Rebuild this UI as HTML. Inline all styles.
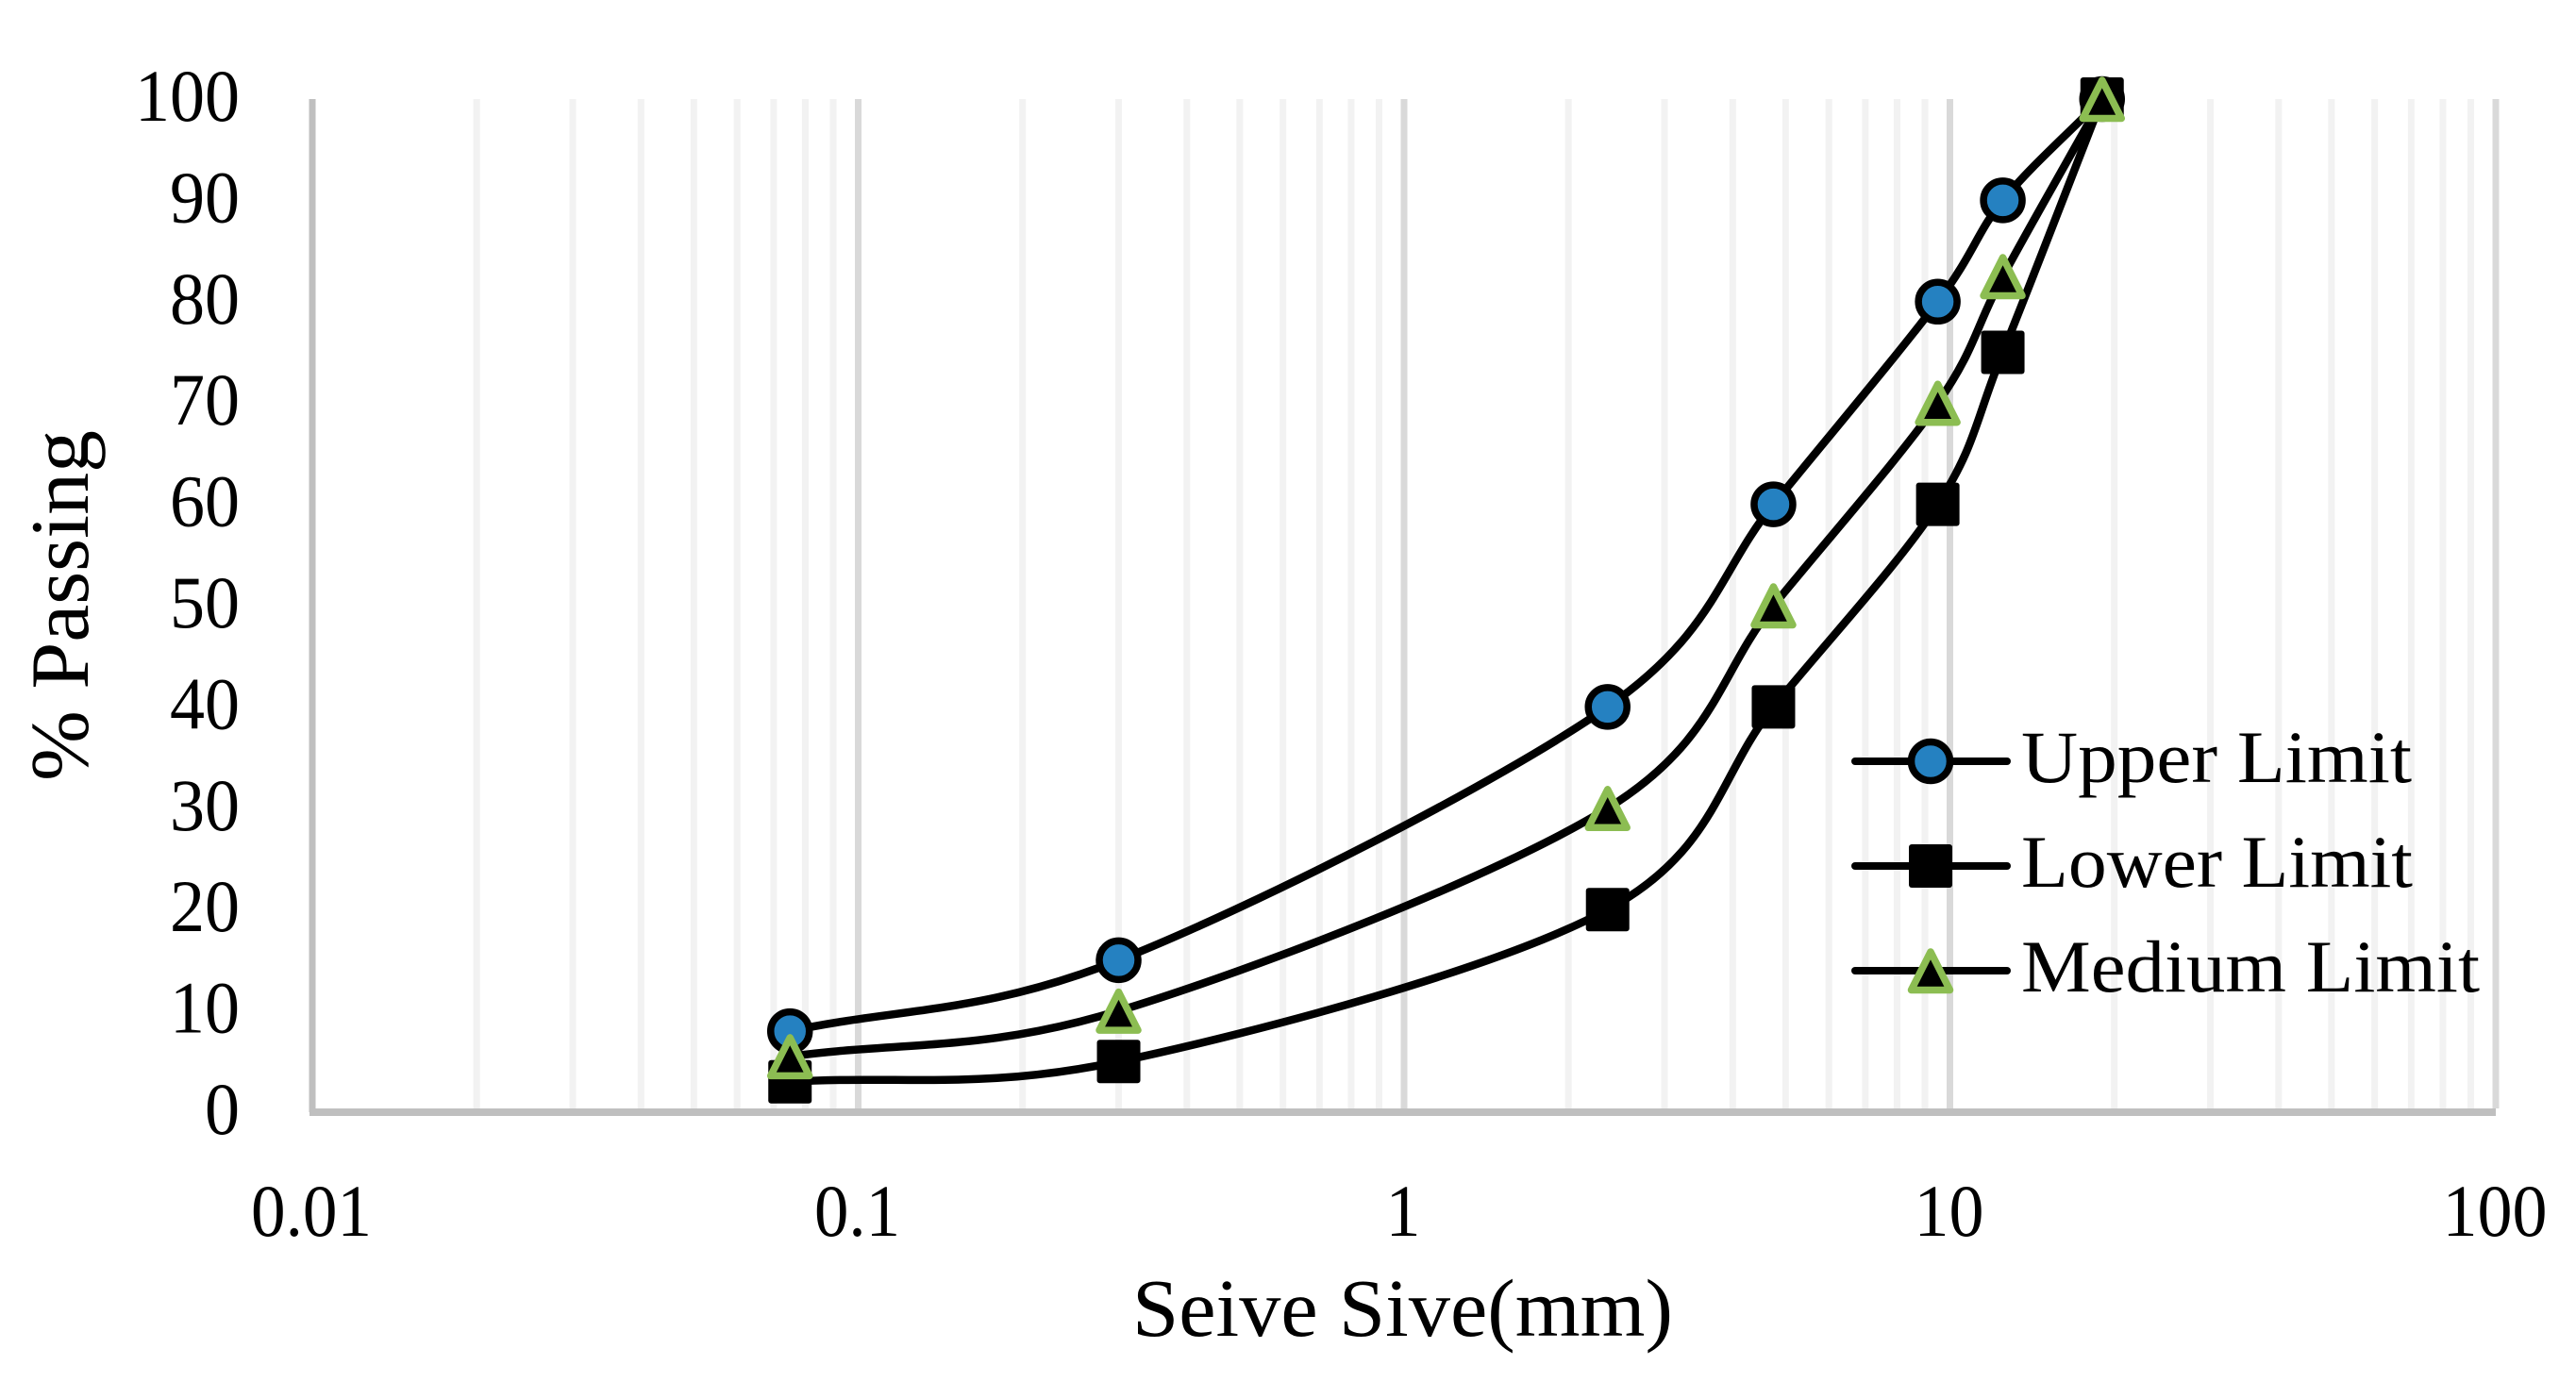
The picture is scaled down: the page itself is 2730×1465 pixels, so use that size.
<!DOCTYPE html>
<html lang="en">
<head>
<meta charset="utf-8">
<title>Sieve Size vs % Passing</title>
<style>
html,body{margin:0;padding:0;background:#fff;}
svg{display:block;font-family:"Liberation Serif",serif;fill:#000;}
</style>
</head>
<body>
<svg id="chart" width="2730" height="1465" viewBox="0 0 2730 1465" xmlns="http://www.w3.org/2000/svg">
<g id="grid"></g>
<g id="axes"></g>
<g id="ylabels"></g>
<g id="xlabels"></g>
<g id="series"></g>
<g id="legend"></g>
<text x="1200" y="1416" font-size="87" textLength="573" lengthAdjust="spacingAndGlyphs">Seive Sive(mm)</text>
<text transform="translate(93,828) rotate(-90)" x="0" y="0" font-size="88" textLength="372" lengthAdjust="spacingAndGlyphs">% Passing</text>
</svg>
<script>
const sieveSizes = [0.075, 0.3, 2.36, 4.75, 9.5, 12.5, 19];
const upperLimit = [8, 15, 40, 60, 80, 90, 100];
const lowerLimit = [3, 5, 20, 40, 60, 75, 100];
const mediumLimit = [5.5, 10, 30, 50, 70, 82.5, 100];
const yTickValues = [0, 10, 20, 30, 40, 50, 60, 70, 80, 90, 100];
const xTickLabels = ["0.01", "0.1", "1", "10", "100"];
const xDecades = [0.01, 0.1, 1, 10];
const minorMultipliers = [2, 3, 4, 5, 6, 7, 8, 9];

const NS = "http://www.w3.org/2000/svg";
const plotLeft = 331, plotRight = 2645, plotTop = 105, plotBottom = 1179;
const xMin = 0.01, xMax = 100, yMin = 0, yMax = 100;
const digitWidth = 37, dotWidth = 17;

function xScale(v) {
  return plotLeft + (Math.log10(v) - Math.log10(xMin)) / (Math.log10(xMax) - Math.log10(xMin)) * (plotRight - plotLeft);
}
function yScale(v) {
  return plotBottom - (v - yMin) / (yMax - yMin) * (plotBottom - plotTop);
}
function make(tag, attrs, parent) {
  const el = document.createElementNS(NS, tag);
  for (const k in attrs) el.setAttribute(k, attrs[k]);
  parent.appendChild(el);
  return el;
}
function dist(a, b) { return Math.hypot(a[0] - b[0], a[1] - b[1]); }
function labelWidth(s) {
  let w = 0;
  for (const ch of s) w += ch === "." ? dotWidth : digitWidth;
  return w;
}

/* Spreadsheet-style smoothed line through the points */
function smoothPath(pts) {
  let d = "M" + pts[0][0].toFixed(2) + " " + pts[0][1].toFixed(2);
  const n = pts.length - 1;
  for (let i = 0; i < n; i++) {
    const p1 = pts[i], p2 = pts[i + 1];
    const p0 = i === 0 ? p1 : pts[i - 1];
    const p3 = i === n - 1 ? p2 : pts[i + 2];
    const d02 = dist(p0, p2), d12 = dist(p1, p2), d13 = dist(p1, p3);
    let f1, f2;
    if (d02 / 6 < d12 / 2 && d13 / 6 < d12 / 2) {
      f1 = i !== 0 ? 1 / 6 : 1 / 3;
      f2 = i !== n - 1 ? 1 / 6 : 1 / 3;
    } else if (d02 / 6 >= d12 / 2 && d13 / 6 >= d12 / 2) {
      f1 = d12 / 2 / d02;
      f2 = d12 / 2 / d13;
    } else if (d02 / 6 >= d12 / 2) {
      f1 = d12 / 2 / d02;
      f2 = d12 / 2 / d13 * (d13 / d02);
    } else {
      f1 = d12 / 2 / d02 * (d02 / d13);
      f2 = d12 / 2 / d13;
    }
    const c1 = [p1[0] + (p2[0] - p0[0]) * f1, p1[1] + (p2[1] - p0[1]) * f1];
    const c2 = [p2[0] - (p3[0] - p1[0]) * f2, p2[1] - (p3[1] - p1[1]) * f2];
    d += " C" + c1[0].toFixed(2) + " " + c1[1].toFixed(2) + " " + c2[0].toFixed(2) + " " + c2[1].toFixed(2) + " " + p2[0].toFixed(2) + " " + p2[1].toFixed(2);
  }
  return d;
}

function drawMarker(kind, cx, cy, parent) {
  if (kind === "circle") {
    const m = make("circle", { cx: cx, cy: cy, r: 20.5, fill: "#2581c1", stroke: "#000", "stroke-width": 7.5 }, parent);
    
    
  } else if (kind === "square") {
    const m = make("rect", { x: cx - 23, y: cy - 23, width: 46, height: 46, rx: 3, fill: "#000" }, parent);
    
    
  } else {
    const pts = [[cx, cy - 20], [cx + 20.5, cy + 20.5], [cx - 20.5, cy + 20.5]].map(p => p.join(",")).join(" ");
    const m = make("polygon", { points: pts, fill: "#000", stroke: "#8cbd52", "stroke-width": 7.5, "stroke-linejoin": "round" }, parent);
    
    
  }
}

/* Gridlines */
const gridG = document.getElementById("grid");
xDecades.forEach(dec => {
  minorMultipliers.forEach(mult => {
    const gx = xScale(dec * mult);
    const line = make("line", { x1: gx, x2: gx, y1: plotTop, y2: plotBottom - 4, stroke: "#f2f2f2", "stroke-width": 7 }, gridG);
    
    
  });
});
xTickLabels.slice(1).forEach(lbl => {
  const gx = xScale(parseFloat(lbl));
  const line = make("line", { x1: gx, x2: gx, y1: plotTop, y2: plotBottom - 4, stroke: "#d9d9d9", "stroke-width": 7 }, gridG);
  
  
});

/* Axes */
const axesG = document.getElementById("axes");
const yAxisLine = make("line", { x1: plotLeft, x2: plotLeft, y1: plotTop, y2: plotBottom, stroke: "#bfbfbf", "stroke-width": 7 }, axesG);


const xAxisLine = make("line", { x1: plotLeft - 3, x2: plotRight, y1: plotBottom, y2: plotBottom, stroke: "#bfbfbf", "stroke-width": 8 }, axesG);



/* Tick labels */
const yG = document.getElementById("ylabels");
yTickValues.forEach(v => {
  const t = make("text", { x: 254, y: yScale(v) + 23, "font-size": 78, "text-anchor": "end", textLength: labelWidth(String(v)), lengthAdjust: "spacingAndGlyphs" }, yG);
  
  
  t.textContent = String(v);
});
const xG = document.getElementById("xlabels");
xTickLabels.forEach(lbl => {
  const t = make("text", { x: xScale(parseFloat(lbl)) - 1, y: 1310, "font-size": 78, "text-anchor": "middle", textLength: labelWidth(lbl), lengthAdjust: "spacingAndGlyphs" }, xG);
  
  
  t.textContent = lbl;
});

/* Series */
const seriesG = document.getElementById("series");
[[upperLimit, "circle", "upper-limit-series"], [lowerLimit, "square", "lower-limit-series"], [mediumLimit, "triangle", "medium-limit-series"]].forEach(cfg => {
  const g = make("g", {}, seriesG);
  
  
  const pts = sieveSizes.map((s, i) => [xScale(s), yScale(cfg[0][i])]);
  const path = make("path", { d: smoothPath(pts), fill: "none", stroke: "#000", "stroke-width": 8.5, "stroke-linecap": "round", "stroke-linejoin": "round" }, g);
  
  
  pts.forEach(p => drawMarker(cfg[1], p[0], p[1], g));
});

/* Legend */
const legendG = document.getElementById("legend");
[["Upper Limit", "circle", 807, 829, 414], ["Lower Limit", "square", 918, 940, 415], ["Medium Limit", "triangle", 1029, 1051, 486]].forEach(cfg => {
  const g = make("g", {}, legendG);
  
  
  const line = make("line", { x1: 1966, x2: 2127, y1: cfg[2], y2: cfg[2], stroke: "#000", "stroke-width": 8, "stroke-linecap": "round" }, g);
  
  
  drawMarker(cfg[1], 2046, cfg[2], g);
  const t = make("text", { x: 2142, y: cfg[3], "font-size": 78, textLength: cfg[4], lengthAdjust: "spacingAndGlyphs" }, g);
  
  
  t.textContent = cfg[0];
});
</script>
</body>
</html>
